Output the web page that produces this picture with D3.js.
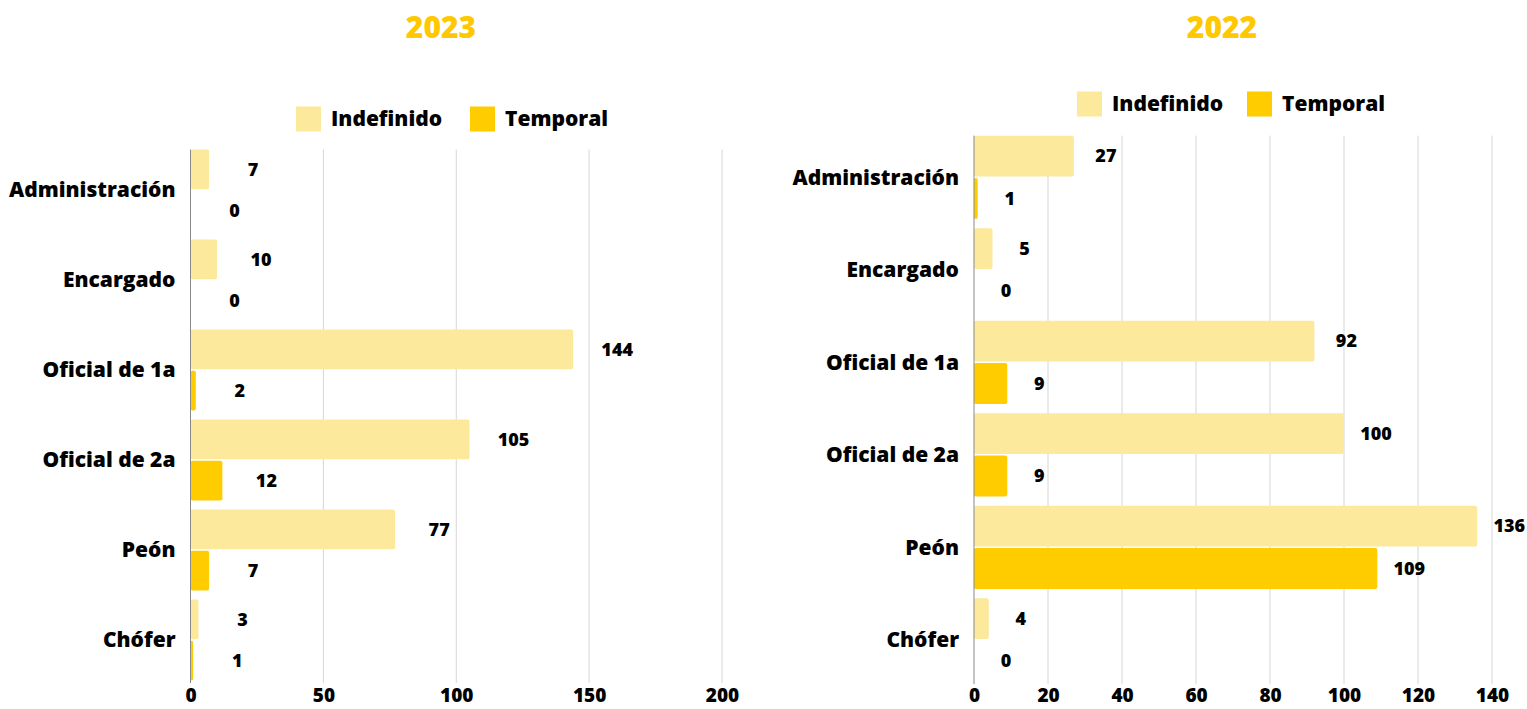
<!DOCTYPE html>
<html>
<head>
<meta charset="utf-8">
<script src="https://cdn.jsdelivr.net/npm/d3@7"></script>
<style>
  body { margin: 0; background: #fff; }
  svg text { font-family: "Open Sans", "Noto Sans", sans-serif; font-weight: 800; fill: #000; }
</style>
</head>
<body>
<div id="root"></div>
<script>
"use strict";

const categories = ["Administración", "Encargado", "Oficial de 1a", "Oficial de 2a", "Peón", "Chófer"];
const seriesNames = ["Indefinido", "Temporal"];
const indefinido2023 = [7, 10, 144, 105, 77, 3];
const temporal2023 = [0, 0, 2, 12, 7, 1];
const indefinido2022 = [27, 5, 92, 100, 136, 4];
const temporal2022 = [1, 0, 9, 9, 109, 0];
const ticks2023 = [0, 50, 100, 150, 200];
const ticks2022 = [0, 20, 40, 60, 80, 100, 120, 140];

const width = 1527;
const height = 709;
const color = {
  Indefinido: "#fce99b",
  Temporal: "#ffcc00",
  title: "#ffc800",
  grid: "#d6d6d6",
  axis: "#888",
};

const svg = d3.select("#root")
  .append("svg")
  .attr("width", width)
  .attr("height", height);

function drawChart(opt) {
  const g = svg.append("g");

  const x = d3.scaleLinear().domain(opt.domain).range(opt.xRange);
  const y = d3.scaleBand()
    .domain(categories)
    .range(opt.yRange)
    .paddingInner(0.1)
    .paddingOuter(0.05);
  const ySub = d3.scaleBand()
    .domain(seriesNames)
    .range([0, y.bandwidth()])
    .paddingInner(0.04);

  // title
  g.append("text")
    .attr("x", opt.titleX)
    .attr("y", 38)
    .attr("text-anchor", "middle")
    .style("font-size", "30px")
    .style("fill", color.title)
    .text(opt.title);

  // legend
  const legend = g.append("g")
    .attr("transform", `translate(${opt.legendX}, ${opt.legendY})`);
  const legendItem = legend.selectAll("g")
    .data(seriesNames)
    .enter()
    .append("g")
    .attr("transform", (d, i) => `translate(${i * opt.legendStep}, 0)`);
  legendItem.append("rect")
    .attr("width", 25)
    .attr("height", 25)
    .attr("y", -12.5)
    .style("fill", (d) => color[d]);
  legendItem.append("text")
    .attr("x", 35)
    .attr("dy", "0.35em")
    .style("font-size", "21px")
    .text((d) => d);

  // grid
  const top = y.range()[0] + y.step() * y.paddingOuter();
  const bottom = y.range()[1] - 2;
  g.append("g")
    .selectAll("line")
    .data(opt.ticks.filter((t) => t > 0))
    .enter()
    .append("line")
    .attr("x1", (d) => x(d))
    .attr("x2", (d) => x(d))
    .attr("y1", top)
    .attr("y2", bottom)
    .style("stroke", color.grid)
    .style("stroke-width", 1);

  const xAxis = d3.axisBottom(x).tickValues(opt.ticks).tickSize(0).tickPadding(0);
  const axisG = g.append("g")
    .attr("transform", `translate(0, ${bottom})`)
    .call(xAxis);
  axisG.select(".domain").remove();
  axisG.selectAll("text")
    .attr("y", 702 - bottom)
    .attr("dy", null)
    .style("font-family", null)
    .style("font-size", "19px");

  // bars
  const rows = categories.map((c, i) => ({
    category: c,
    values: [
      { series: "Indefinido", value: opt.indefinido[i] },
      { series: "Temporal", value: opt.temporal[i] },
    ],
  }));

  const group = g.selectAll(".group")
    .data(rows)
    .enter()
    .append("g")
    .attr("class", "group")
    .attr("transform", (d) => `translate(0, ${y(d.category)})`);

  group.selectAll("rect")
    .data((d) => d.values)
    .enter()
    .append("rect")
    .attr("x", x(0))
    .attr("y", (d) => ySub(d.series))
    .attr("width", (d) => x(d.value) - x(0))
    .attr("height", ySub.bandwidth())
    .attr("rx", 2)
    .style("fill", (d) => color[d.series]);

  group.selectAll(".value")
    .data((d) => d.values)
    .enter()
    .append("text")
    .attr("class", "value")
    .attr("x", (d) => x(d.value) + opt.labelPad)
    .attr("y", (d) => ySub(d.series) + ySub.bandwidth() / 2)
    .attr("dy", "0.35em")
    .attr("text-anchor", "middle")
    .style("font-size", "18px")
    .text((d) => d.value);

  // category labels
  group.append("text")
    .attr("x", x(0) - 15)
    .attr("y", y.bandwidth() / 2)
    .attr("dy", "0.35em")
    .attr("text-anchor", "end")
    .style("font-size", "21px")
    .text((d) => d.category);

  // zero axis line
  g.append("line")
    .attr("x1", x(0))
    .attr("x2", x(0))
    .attr("y1", top)
    .attr("y2", bottom)
    .style("stroke", color.axis)
    .style("stroke-width", 1);
}

drawChart({
  title: "2023",
  titleX: 441,
  legendX: 296,
  legendY: 119,
  legendStep: 174,
  domain: [0, 200],
  ticks: ticks2023,
  xRange: [190.5, 722],
  yRange: [145, 685],
  labelPad: 44,
  indefinido: indefinido2023,
  temporal: temporal2023,
});

drawChart({
  title: "2022",
  titleX: 1222,
  legendX: 1077,
  legendY: 104,
  legendStep: 170,
  domain: [0, 140],
  ticks: ticks2022,
  xRange: [974, 1492],
  yRange: [131, 686],
  labelPad: 32,
  indefinido: indefinido2022,
  temporal: temporal2022,
});
</script>
</body>
</html>
